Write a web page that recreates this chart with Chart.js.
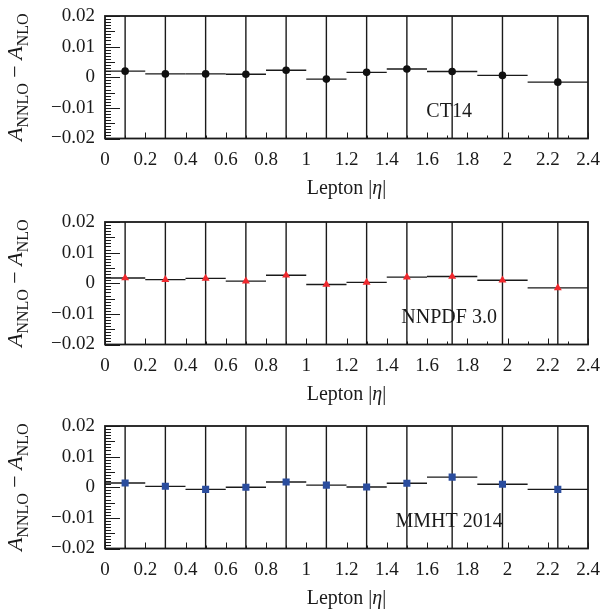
<!DOCTYPE html>
<html>
<head>
<meta charset="utf-8">
<script src="https://cdn.jsdelivr.net/npm/chart.js@4.4.1/dist/chart.umd.min.js"></script>
<style>
    html, body { margin: 0; padding: 0; background: #ffffff; }
    body { width: 602px; height: 611px; position: relative; overflow: hidden; }
    .panel { position: absolute; left: 0; width: 602px; height: 200px; }
</style>
</head>
<body>
<div class="panel" style="top:0px;"><canvas id="ct14-chart" width="602" height="200"></canvas></div>
<div class="panel" style="top:206px;"><canvas id="nnpdf-chart" width="602" height="200"></canvas></div>
<div class="panel" style="top:410px;"><canvas id="mmht-chart" width="602" height="200"></canvas></div>

<script>
// ==========================================
// DATA
// lepton |eta| bins, A_NNLO - A_NLO per PDF set
// ==========================================
const etaCenters = [0.1, 0.3, 0.5, 0.7, 0.9, 1.1, 1.3, 1.5, 1.725, 1.975, 2.25];
const binLow     = [0.0, 0.2, 0.4, 0.6, 0.8, 1.0, 1.2, 1.4, 1.6, 1.85, 2.1];
const binHigh    = [0.2, 0.4, 0.6, 0.8, 1.0, 1.2, 1.4, 1.6, 1.85, 2.1, 2.4];

const ct14Diff  = [0.0020, 0.0011, 0.0011, 0.0010, 0.0023, -0.0006, 0.0016, 0.0027, 0.0019, 0.0006, -0.0016];
const nnpdfDiff = [0.0017, 0.0012, 0.0016, 0.0007, 0.0026, -0.0004, 0.0003, 0.0020, 0.0022, 0.0010, -0.0015];
const mmhtDiff  = [0.0014, 0.0003, -0.0007, 0.0000, 0.0017, 0.0007, 0.0001, 0.0013, 0.0033, 0.0010, -0.0007];

// error bars run off the frame in every bin
const diffErr = [0.05, 0.05, 0.05, 0.05, 0.05, 0.05, 0.05, 0.05, 0.05, 0.05, 0.05];

const etaRange  = [0, 2.4];
const diffRange = [-0.02, 0.02];

const FONT = '"Liberation Serif", "DejaVu Serif", serif';
const INK  = '#1a1a1a';

// ==========================================
// PANEL DECORATION: bins, inner ticks, frame, titles
// ==========================================
const panelDecor = {
    id: 'panelDecor',
    beforeDatasetsDraw(chart, args, opts) {
        const { ctx, chartArea: a, scales: { x, y } } = chart;
        ctx.save();
        ctx.beginPath();
        ctx.rect(a.left, a.top, a.right - a.left, a.bottom - a.top);
        ctx.clip();

        // set label
        ctx.fillStyle = INK;
        ctx.font = '20px ' + FONT;
        ctx.textAlign = 'center';
        ctx.textBaseline = 'middle';
        ctx.fillText(opts.label, x.getPixelForValue(1.71), y.getPixelForValue(-0.0114));

        // bin widths and error bars
        ctx.strokeStyle = INK;
        ctx.lineWidth = 1.4;
        opts.values.forEach((v, i) => {
            const py = y.getPixelForValue(v);
            const px = x.getPixelForValue(etaCenters[i]);
            ctx.beginPath();
            ctx.moveTo(x.getPixelForValue(binLow[i]), py);
            ctx.lineTo(x.getPixelForValue(binHigh[i]), py);
            ctx.moveTo(px, y.getPixelForValue(v - diffErr[i]));
            ctx.lineTo(px, y.getPixelForValue(v + diffErr[i]));
            ctx.stroke();
        });
        ctx.restore();
    },
    afterDraw(chart) {
        const { ctx, chartArea: a, scales: { x, y } } = chart;
        ctx.save();
        ctx.strokeStyle = INK;

        // inner ticks
        ctx.lineWidth = 1;
        ctx.beginPath();
        for (let k = -20; k <= 20; k++) {
            const py = Math.round(y.getPixelForValue(k / 1000)) + 0.5;
            const len = k % 10 === 0 ? 15 : (k % 5 === 0 ? 10 : 6);
            ctx.moveTo(a.left, py);
            ctx.lineTo(a.left + len, py);
        }
        for (let k = 0; k <= 24; k++) {
            const px = Math.round(x.getPixelForValue(k / 10)) + 0.5;
            const len = k % 2 === 0 ? 6 : 3;
            ctx.moveTo(px, a.bottom);
            ctx.lineTo(px, a.bottom - len);
        }
        ctx.stroke();

        // frame
        ctx.lineWidth = 1.8;
        ctx.strokeRect(a.left, a.top, a.right - a.left, a.bottom - a.top);

        ctx.fillStyle = INK;
        ctx.textBaseline = 'middle';

        // x title: Lepton |eta|
        const xParts = [
            { t: 'Lepton |', f: '20px ' + FONT },
            { t: 'η', f: 'italic 20px ' + FONT },
            { t: '|', f: '20px ' + FONT }
        ];
        let w = 0;
        xParts.forEach(p => { ctx.font = p.f; w += ctx.measureText(p.t).width; });
        let cx = (a.left + a.right) / 2 - w / 2;
        const ty = a.bottom + 50;
        ctx.textAlign = 'left';
        xParts.forEach(p => {
            ctx.font = p.f;
            ctx.fillText(p.t, cx, ty);
            cx += ctx.measureText(p.t).width;
        });

        // y title: A_NNLO - A_NLO (rotated)
        const yParts = [
            { t: 'A', f: 'italic 22px ' + FONT, sub: false },
            { t: 'NNLO', f: '16px ' + FONT, sub: true },
            { t: ' − ', f: '22px ' + FONT, sub: false },
            { t: 'A', f: 'italic 22px ' + FONT, sub: false },
            { t: 'NLO', f: '16px ' + FONT, sub: true }
        ];
        w = 0;
        yParts.forEach(p => { ctx.font = p.f; w += ctx.measureText(p.t).width; });
        ctx.translate(16, (a.top + a.bottom) / 2);
        ctx.rotate(-Math.PI / 2);
        ctx.textBaseline = 'alphabetic';
        let lx = -w / 2;
        yParts.forEach(p => {
            ctx.font = p.f;
            ctx.fillText(p.t, lx, p.sub ? 12 : 6);
            lx += ctx.measureText(p.t).width;
        });
        ctx.restore();
    }
};

// ==========================================
// BUILD ONE PANEL
// ==========================================
function makePanel(canvasId, values, label, style, color, radius) {
    const canvas = document.getElementById(canvasId);
    return new Chart(canvas, {
        type: 'scatter',
        data: {
            datasets: [{
                data: etaCenters.map((e, i) => ({ x: e, y: values[i] })),
                pointStyle: style,
                pointRadius: radius,
                pointHoverRadius: radius,
                backgroundColor: color,
                borderColor: color,
                borderWidth: 0
            }]
        },
        options: {
            responsive: false,
            animation: false,
            events: [],
            layout: { padding: { left: 0, right: 14, top: 16, bottom: 0 } },
            plugins: {
                legend: { display: false },
                tooltip: { enabled: false },
                panelDecor: { values: values, label: label }
            },
            scales: {
                x: {
                    type: 'linear',
                    min: etaRange[0],
                    max: etaRange[1],
                    grid: { display: false, drawTicks: false },
                    border: { display: false },
                    ticks: {
                        stepSize: 0.2,
                        autoSkip: false,
                        maxRotation: 0,
                        padding: 10,
                        color: INK,
                        font: { family: FONT, size: 19 },
                        callback: v => String(Math.round(v * 10) / 10)
                    },
                    afterFit: s => {
                        s.height = 61.5;
                        s.paddingLeft = 0;
                        s.paddingRight = 0;
                    }
                },
                y: {
                    type: 'linear',
                    min: diffRange[0],
                    max: diffRange[1],
                    grid: { display: false, drawTicks: false },
                    border: { display: false },
                    ticks: {
                        stepSize: 0.01,
                        padding: 10,
                        color: INK,
                        font: { family: FONT, size: 19 },
                        callback: v => {
                            const r = Math.round(v * 100) / 100;
                            if (r === 0) return '0';
                            return (r < 0 ? '−' : '') + Math.abs(r).toFixed(2);
                        }
                    },
                    afterFit: s => {
                        s.width = 105;
                        s.paddingTop = 0;
                        s.paddingBottom = 0;
                    }
                }
            }
        },
        plugins: [panelDecor]
    });
}

makePanel('ct14-chart',  ct14Diff,  'CT14',       'circle',   '#111111', 3.8);
makePanel('nnpdf-chart', nnpdfDiff, 'NNPDF 3.0',  'triangle', '#f0282d', 4.6);
makePanel('mmht-chart',  mmhtDiff,  'MMHT 2014',  'rect',     '#2b4d9e', 5);
</script>
</body>
</html>
